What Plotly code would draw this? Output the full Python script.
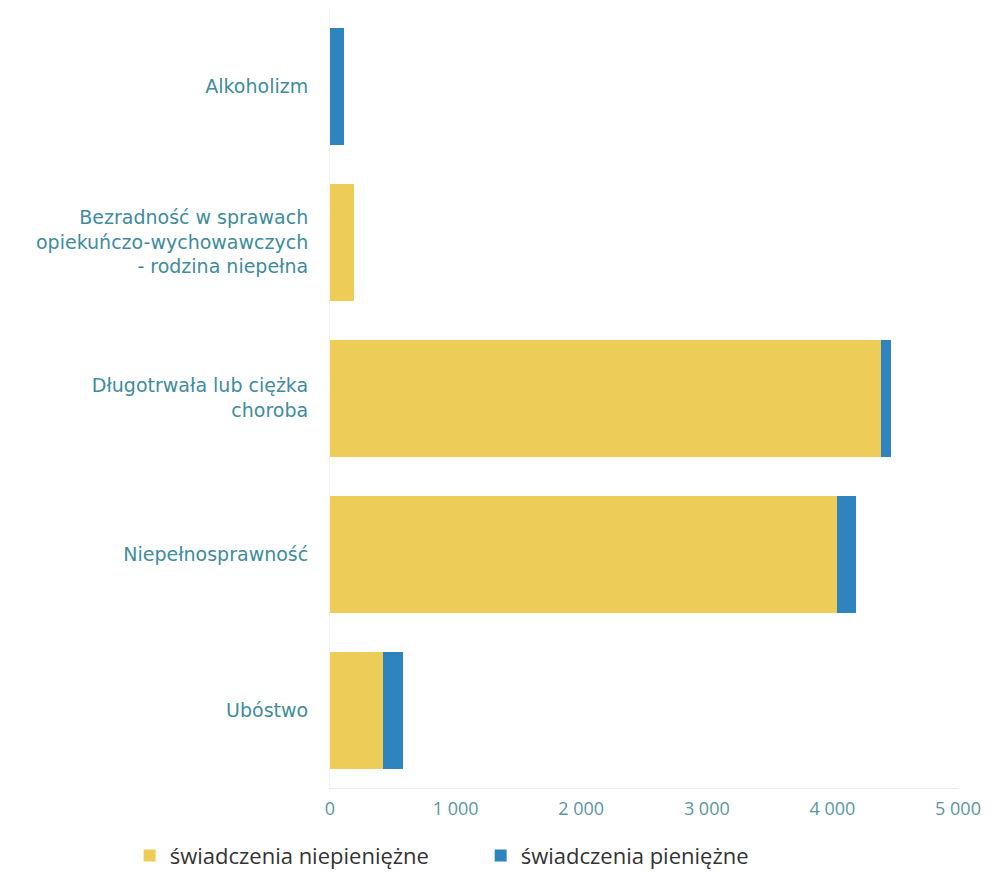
import plotly.graph_objects as go

categories = [
    "Alkoholizm",
    "Bezradność w sprawach<br>opiekuńczo-wychowawczych<br>- rodzina niepełna",
    "Długotrwała lub ciężka<br>choroba",
    "Niepełnosprawność",
    "Ubóstwo",
]
niepieniezne = [0, 190, 4390, 4040, 420]
pieniezne = [110, 0, 80, 150, 160]
tick_vals = [0, 1000, 2000, 3000, 4000, 5000]
tick_text = ["0", "1 000", "2 000", "3 000", "4 000", "5 000"]

fig = go.Figure()
fig.add_trace(go.Bar(
    y=categories, x=niepieniezne, orientation="h",
    name="świadczenia niepieniężne",
    marker=dict(color="#EDCC58", line=dict(width=0)),
))
fig.add_trace(go.Bar(
    y=categories, x=pieniezne, orientation="h",
    name="świadczenia pieniężne",
    marker=dict(color="#2D84BE", line=dict(width=0)),
))

fig.update_layout(
    barmode="stack",
    bargap=0.25,
    width=989, height=869,
    margin=dict(l=322, r=39, t=0, b=79),
    plot_bgcolor="white",
    paper_bgcolor="white",
    font=dict(family="DejaVu Sans", size=19, color="#4A8E9C"),
    legend=dict(
        orientation="h", x=-0.319, xanchor="left", y=-0.060, yanchor="top",
        font=dict(family="Open Sans", size=22, color="#333333"),
        entrywidth=306, entrywidthmode="pixels", traceorder="normal",
    ),
    xaxis=dict(
        range=[0, 5000], tickvals=tick_vals, ticktext=tick_text,
        showgrid=False, zeroline=False, showline=True, linecolor="#EEEEEE",
        tickfont=dict(family="Open Sans", size=18, color="#5A96A2"), ticks="",
        ticklabelstandoff=4, automargin=False,
    ),
    yaxis=dict(
        autorange="reversed", showgrid=False, zeroline=False,
        showline=True, linecolor="#F2F2F2",
        ticks="", ticklabelstandoff=17, automargin=False,
        tickfont=dict(family="DejaVu Sans", size=19, color="#3E8C9C"),
    ),
)

fig.write_html("out.html")
